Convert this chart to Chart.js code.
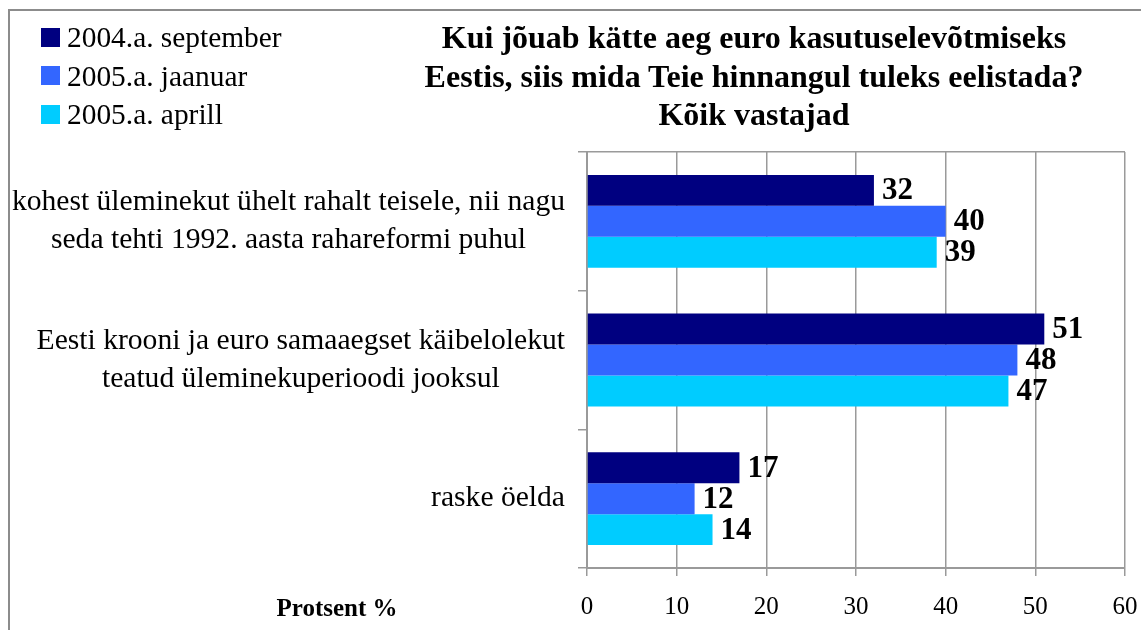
<!DOCTYPE html>
<html>
<head>
<meta charset="utf-8">
<script src="https://cdn.jsdelivr.net/npm/chart.js@4.4.0/dist/chart.umd.min.js"></script>
<style>
  body { margin: 0; background: #fff; }
  #wrap { position: relative; width: 1141px; height: 630px; overflow: hidden; font-family: "Liberation Serif", "Times New Roman", serif; color: #000; }
  #frame { position: absolute; left: 8px; top: 9px; width: 1200px; height: 700px; border-left: 2px solid #8c8c8c; border-top: 2px solid #8c8c8c; }
  canvas { position: absolute; left: 0; top: 0; }
  #legend { position: absolute; left: 41px; top: 18px; font-size: 29.4px; line-height: 38.5px; }
  #legend div { display: flex; align-items: center; white-space: nowrap; }
  #legend span.sw { display: inline-block; width: 19px; height: 19px; margin-right: 7px; }
  #title { position: absolute; left: 424px; width: 660px; top: 18px; text-align: center; font-weight: bold; font-size: 32px; line-height: 38.5px; white-space: nowrap; }
  #xtitle { position: absolute; left: 237px; width: 200px; top: 592px; text-align: center; font-weight: bold; font-size: 25px; line-height: 32px; }
</style>
</head>
<body>
<div id="wrap">
  <div id="frame"></div>
  <canvas id="chart" width="1141" height="630"></canvas>
  <div id="legend"></div>
  <div id="title">Kui jõuab kätte aeg euro kasutuselevõtmiseks<br>Eestis, siis mida Teie hinnangul tuleks eelistada?<br>Kõik vastajad</div>
  <div id="xtitle">Protsent %</div>
</div>
<script>
// answer options (each line of a label is one array item)
const categories = [
  ['kohest üleminekut ühelt rahalt teisele, nii nagu', 'seda tehti 1992. aasta rahareformi puhul'],
  ['Eesti krooni ja euro samaaegset käibelolekut', 'teatud üleminekuperioodi jooksul'],
  ['raske öelda']
];
const seriesNames = ['2004.a. september', '2005.a. jaanuar', '2005.a. aprill'];
const seriesColors = ['#000080', '#3366ff', '#00ccff'];
const sep2004 = [32, 51, 17];
const jan2005 = [40, 48, 12];
const apr2005 = [39, 47, 14];
const xTicks = [0, 10, 20, 30, 40, 50, 60];

const serif = '"Liberation Serif", "Times New Roman", serif';

// legend
const legendEl = document.getElementById('legend');
seriesNames.forEach((name, i) => {
  const row = document.createElement('div');
  row.innerHTML = '<span class="sw" style="background:' + seriesColors[i] + '"></span>' + name;
  legendEl.appendChild(row);
});

// category labels: block right-aligned at the axis, lines centred inside the block
const categoryLabels = {
  id: 'categoryLabels',
  afterDraw(chart) {
    const ctx = chart.ctx;
    const y = chart.scales.y;
    const lineH = 38;
    ctx.save();
    ctx.font = '29.6px ' + serif;
    ctx.fillStyle = '#000';
    ctx.textAlign = 'center';
    ctx.textBaseline = 'middle';
    categories.forEach((lines, i) => {
      const w = Math.max(...lines.map(l => ctx.measureText(l).width));
      const cx = chart.chartArea.left - 22 - w / 2;
      const cy = y.getPixelForValue(i);
      lines.forEach((l, j) => {
        ctx.fillText(l, cx, cy + (j - (lines.length - 1) / 2) * lineH);
      });
    });
    ctx.restore();
  }
};

// value labels at the end of each bar
const valueLabels = {
  id: 'valueLabels',
  afterDatasetsDraw(chart) {
    const ctx = chart.ctx;
    ctx.save();
    ctx.font = 'bold 31px ' + serif;
    ctx.fillStyle = '#000';
    ctx.textAlign = 'left';
    ctx.textBaseline = 'middle';
    chart.data.datasets.forEach((ds, di) => {
      chart.getDatasetMeta(di).data.forEach((bar, i) => {
        ctx.fillText(ds.data[i], bar.x + 8, bar.y + 1);
      });
    });
    ctx.restore();
  }
};

new Chart(document.getElementById('chart'), {
  type: 'bar',
  data: {
    labels: categories,
    datasets: [
      { label: seriesNames[0], data: sep2004, backgroundColor: seriesColors[0] },
      { label: seriesNames[1], data: jan2005, backgroundColor: seriesColors[1] },
      { label: seriesNames[2], data: apr2005, backgroundColor: seriesColors[2] }
    ]
  },
  options: {
    indexAxis: 'y',
    responsive: false,
    animation: false,
    devicePixelRatio: 1,
    datasets: { bar: { barPercentage: 1, categoryPercentage: 0.67 } },
    layout: { padding: { top: 152, left: 8, right: 16, bottom: 0 } },
    plugins: { legend: { display: false }, title: { display: false }, tooltip: { enabled: false } },
    scales: {
      x: {
        min: 0,
        max: 60,
        afterBuildTicks: s => { s.ticks = xTicks.map(v => ({ value: v })); },
        grid: { color: '#9a9a9a', tickColor: '#9a9a9a', tickLength: 8, lineWidth: 1.5 },
        border: { color: '#9a9a9a', width: 2 },
        ticks: { color: '#000', font: { family: serif, size: 25 }, padding: 16 },
        afterFit: s => { s.height = 62; s.paddingRight = 0; s.paddingLeft = 0; }
      },
      y: {
        grid: {
          color: c => c.index === 0 ? '#9a9a9a' : 'rgba(0,0,0,0)',
          tickColor: '#9a9a9a',
          tickLength: 9,
          lineWidth: 1.5
        },
        border: { color: '#9a9a9a', width: 2 },
        ticks: { display: false },
        afterFit: s => { s.width = 579; s.paddingTop = 0; s.paddingBottom = 0; }
      }
    }
  },
  plugins: [categoryLabels, valueLabels]
});
</script>
</body>
</html>
